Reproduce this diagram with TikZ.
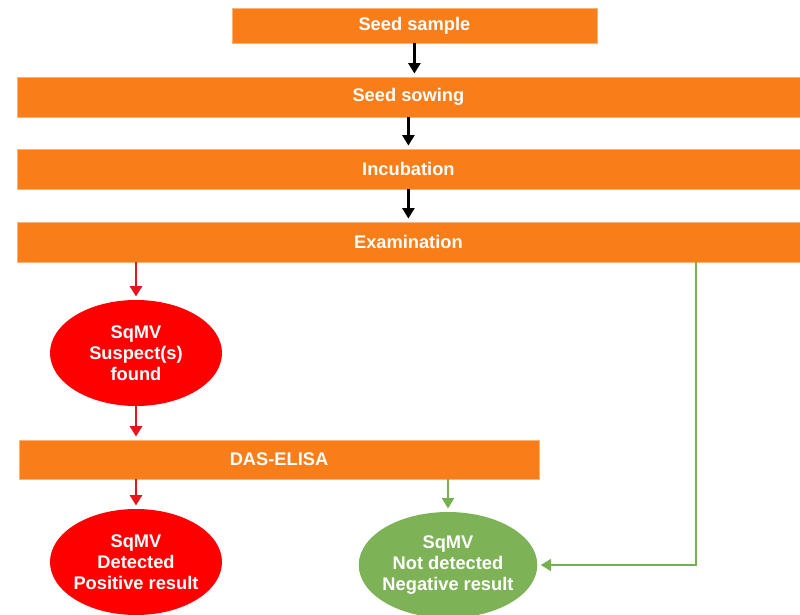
\documentclass[tikz,border=0pt]{standalone}
\usepackage{fontspec}
\setmainfont{Liberation Sans}
\usepackage{tikz}
\usetikzlibrary{arrows.meta}
\usetikzlibrary{shapes.geometric}

\begin{document}
\begin{tikzpicture}[
    stepbox/.style={rectangle, fill=boxorange, draw=boxorange!60!white, line width=0.4pt, text=white, font=\fontsize{13}{15}\selectfont\bfseries, inner sep=0pt},
    resultell/.style={ellipse, text=white, font=\fontsize{13}{15}\selectfont\bfseries, align=center, inner ysep=0pt, inner xsep=-0.06cm, minimum width=4.3cm, minimum height=2.65cm},
    tip/.style={-{Triangle[length=0.26cm,width=0.3cm]}, line width=0.06cm, shorten >=0.08cm}
  ]
    \definecolor{boxorange}{HTML}{F97E1A}
    \definecolor{ellred}{HTML}{FF0000}
    \definecolor{arrred}{HTML}{E8141B}
    \definecolor{ellgreen}{HTML}{7EB257}
    \definecolor{arrgreen}{HTML}{74B04E}
    \useasboundingbox (0,0) rectangle (20,-15.35);  %Rahmen
    \node[stepbox, minimum width=9.125cm, minimum height=0.875cm] (sample) at (10.36,-0.64) {Seed sample};
    \foreach \name/\y/\lbl in
    {
      sowing/-2.425/Seed sowing,
      incub/-4.225/Incubation,
      exam/-6.05/Examination
    }
    {
      \node[stepbox, minimum width=19.575cm, minimum height=1cm] (\name) at (10.21,\y) {\lbl};
    }
    \foreach \a/\b in {sample/sowing, sowing/incub, incub/exam}
    {
      \draw[tip, black] (\a.south) -- (\a.south |- \b.north);
    }
    \node[resultell, fill=ellred] (suspect) at (3.4,-8.825) {SqMV\\Suspect(s)\\found};
    \node[stepbox, minimum width=13cm, minimum height=0.975cm] (elisa) at (6.975,-11.49) {DAS-ELISA};
    \node[resultell, fill=ellred] (positive) at (3.4,-14.05) {SqMV\\Detected\\Positive result};
    \node[resultell, fill=ellgreen, minimum width=4.325cm] (negative) at (11.2,-14.125) {SqMV\\Not detected\\Negative result};
    \coordinate (negline) at (17.4,0);  %gruene Linie rechts
    \draw[tip, arrred] (suspect.north |- exam.south) -- (suspect.north);
    \draw[tip, arrred] (suspect.south) -- (suspect.south |- elisa.north);
    \draw[tip, arrred] (positive.north |- elisa.south) -- (positive.north);
    \draw[tip, arrgreen, line width=0.045cm] (negative.north |- elisa.south) -- (negative.north);
    \draw[tip, arrgreen, line width=0.045cm] (negline |- exam.south) |- (negative.east);
\end{tikzpicture}
\end{document}
